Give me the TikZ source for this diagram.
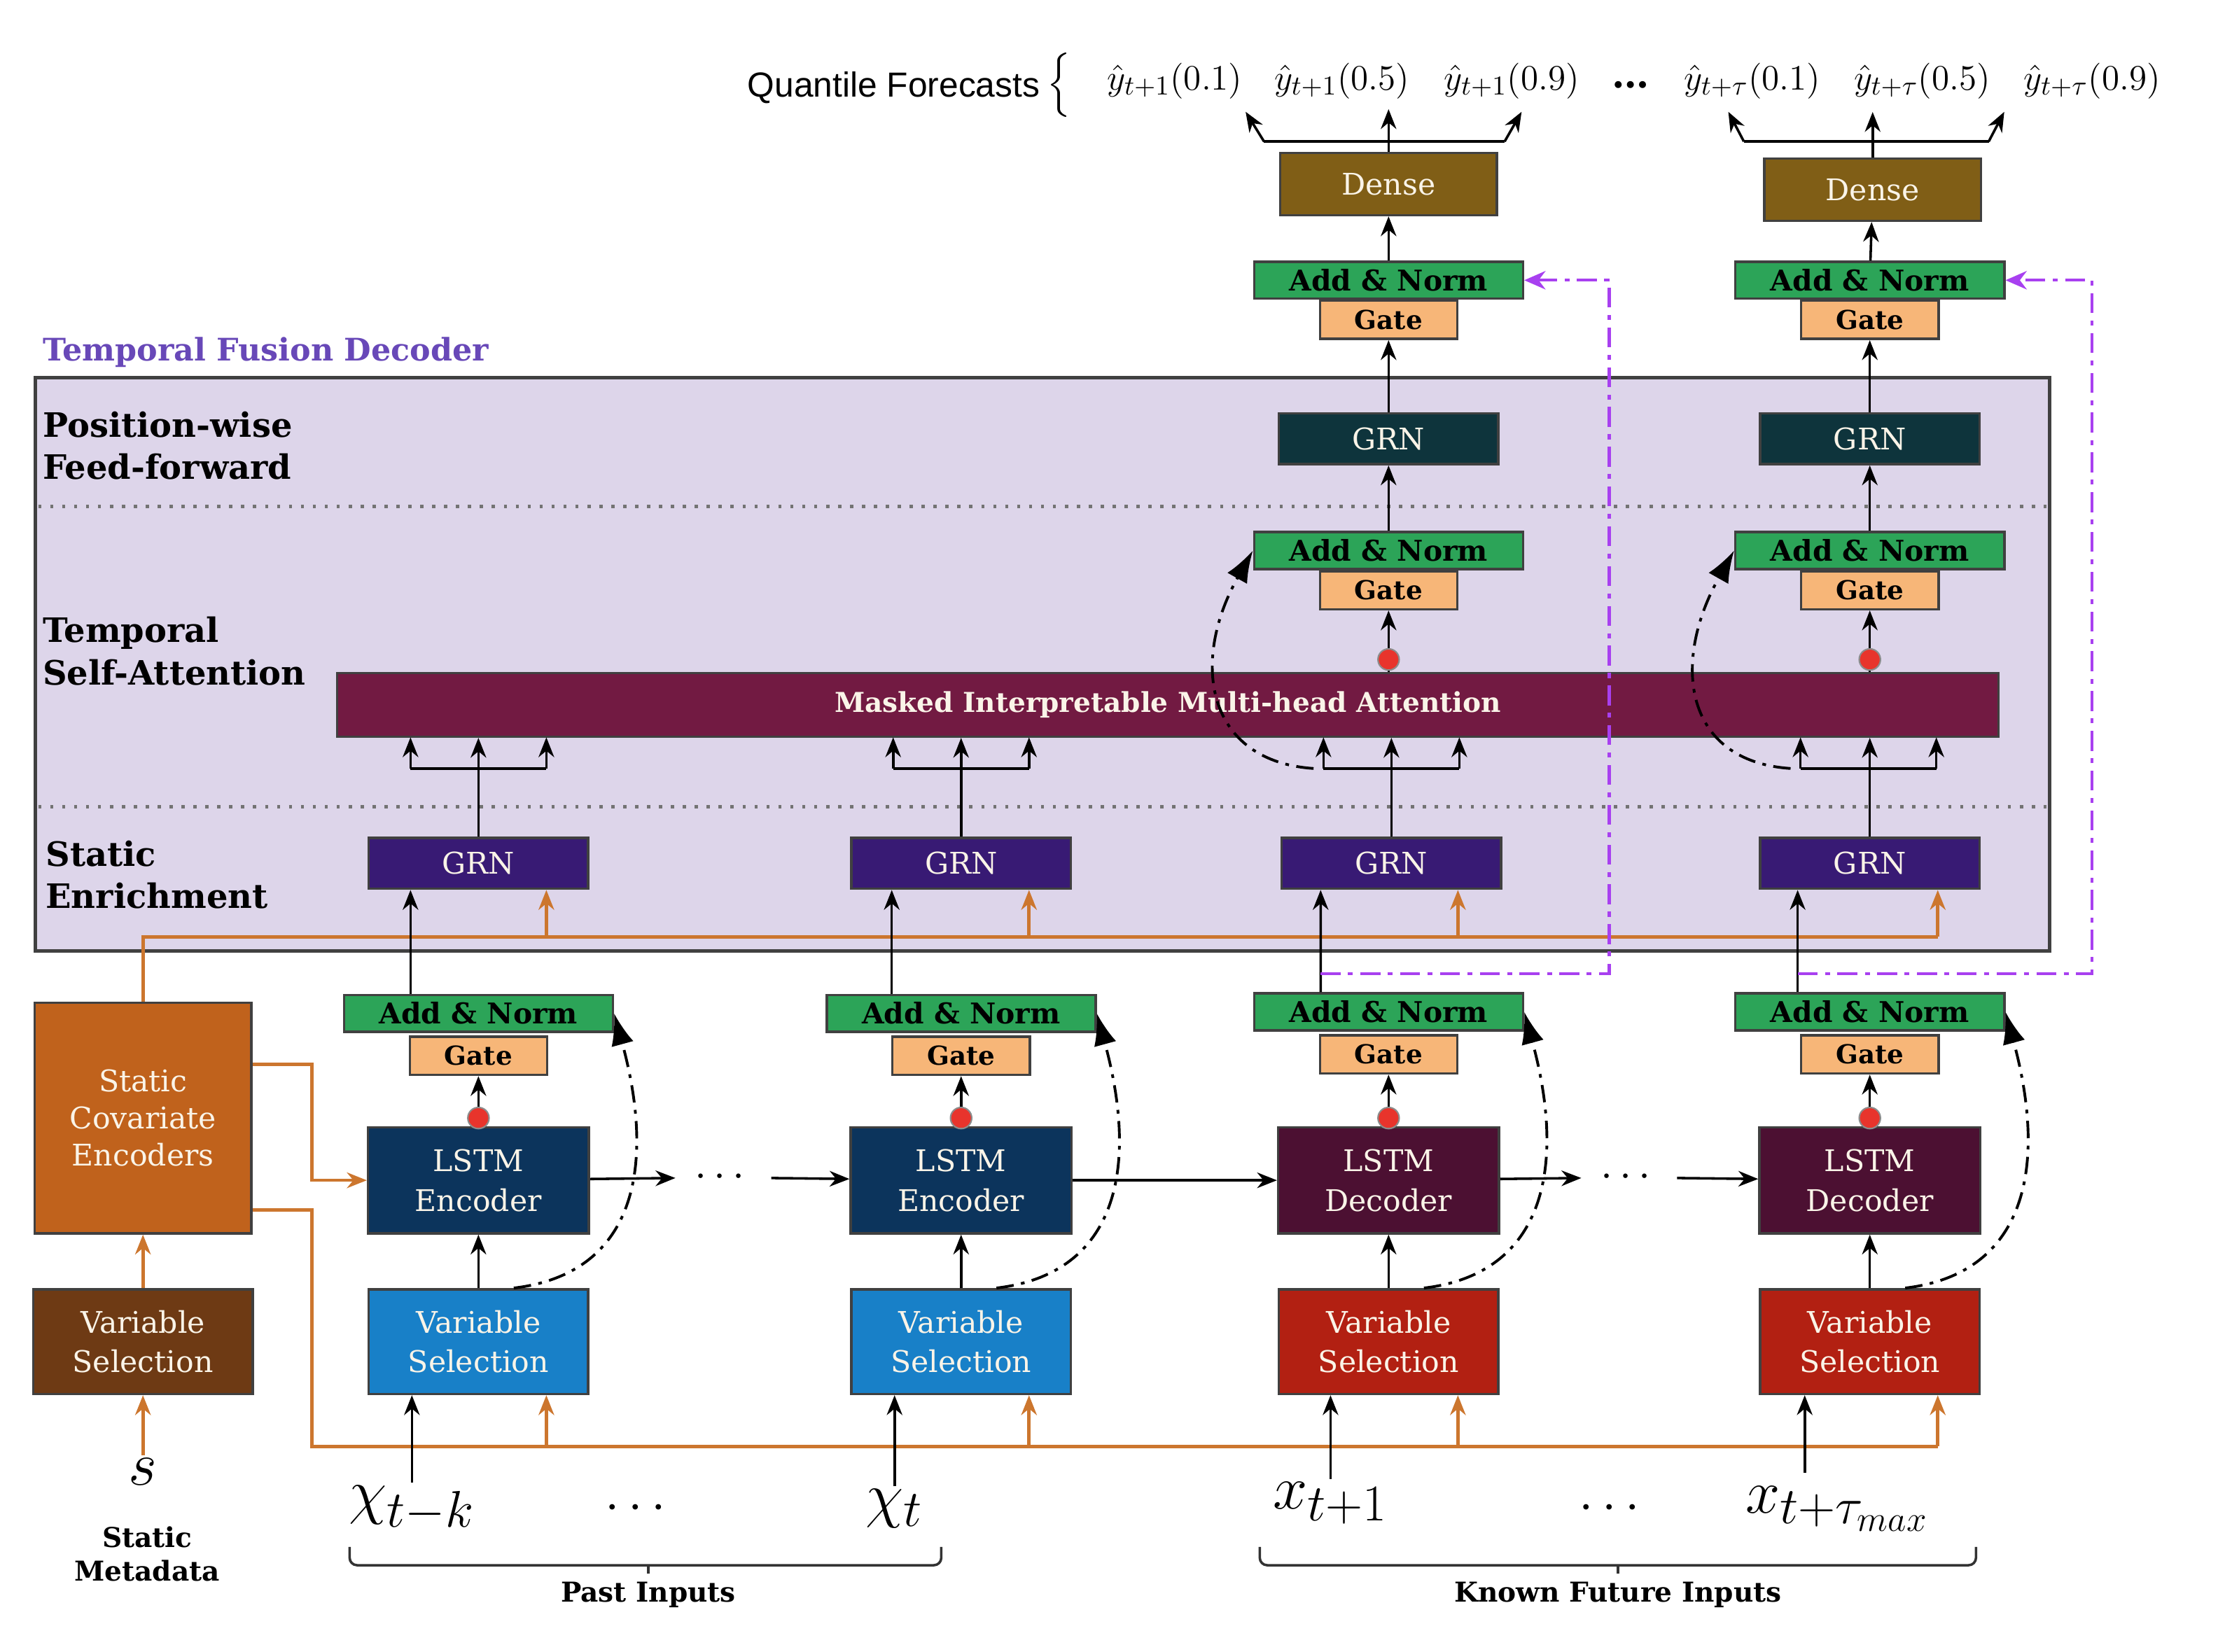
\documentclass[tikz,border=0pt]{standalone}
\usepackage[no-math]{fontspec}
\setmainfont{DejaVu Serif}
\newfontfamily\quantfont{Liberation Sans}
\usepackage{amsmath}
\usetikzlibrary{arrows.meta}

\definecolor{tfdfill}{RGB}{221,213,234}
\definecolor{tfdtitle}{RGB}{104,72,184}
\definecolor{addfill}{RGB}{44,164,88}
\definecolor{gatefill}{RGB}{247,182,120}
\definecolor{grnfill}{RGB}{56,26,116}
\definecolor{fffill}{RGB}{14,52,60}
\definecolor{densefill}{RGB}{128,94,22}
\definecolor{attnfill}{RGB}{114,26,66}
\definecolor{encfill}{RGB}{12,52,92}
\definecolor{decfill}{RGB}{76,16,50}
\definecolor{pastsel}{RGB}{24,128,200}
\definecolor{futsel}{RGB}{178,32,18}
\definecolor{scefill}{RGB}{192,98,28}
\definecolor{statsel}{RGB}{110,58,20}
\definecolor{statline}{RGB}{204,118,46}
\definecolor{skippurple}{RGB}{168,64,240}
\definecolor{dotred}{RGB}{232,52,44}
\definecolor{boxtext}{RGB}{250,244,232}

\tikzset{
  block/.style={draw=black!75, line width=1pt, inner sep=0pt, align=center, text=boxtext, font=\fontsize{12}{16}\selectfont},
  addbox/.style={block, fill=addfill, text=black, minimum width=3.8cm, minimum height=0.52cm, font=\bfseries\fontsize{11.5}{13}\selectfont},
  gatebox/.style={block, fill=gatefill, text=black, minimum width=1.94cm, minimum height=0.54cm, font=\bfseries\fontsize{10.5}{12}\selectfont},
  grnbox/.style={block, fill=grnfill, minimum width=3.1cm, minimum height=0.72cm},
  ffbox/.style={block, fill=fffill, minimum width=3.1cm, minimum height=0.72cm},
  lstmbox/.style={block, minimum width=3.12cm, minimum height=1.5cm},
  selbox/.style={block, minimum width=3.1cm, minimum height=1.48cm},
  densebox/.style={block, fill=densefill, minimum width=3.06cm, minimum height=0.88cm},
  gatedot/.style={circle, fill=dotred, draw=black!45, line width=0.6pt, minimum size=0.3cm, inner sep=0pt},
  plain/.style={draw=black, line width=1pt},
  flow/.style={plain, -{Stealth[length=2.8mm,width=2.2mm,inset=0.9mm]}},
  staticline/.style={draw=statline, line width=1.3pt},
  staticflow/.style={staticline, -{Stealth[length=2.8mm,width=2.2mm,inset=0.9mm]}},
  resid/.style={draw=black, line width=1.1pt, dash pattern=on 7pt off 3pt on 1.5pt off 3pt, -{Latex[length=4.5mm,width=3.2mm]}},
  outskip/.style={draw=skippurple, line width=1.2pt, dash pattern=on 8pt off 3pt on 2pt off 3pt, -{Stealth[length=3mm,width=2.6mm]}},
  seclabel/.style={anchor=west, align=left, inner sep=0pt, font=\bfseries\fontsize{13.5}{17}\selectfont},
  qtext/.style={inner sep=0pt, font=\fontsize{15.5}{18}\selectfont},
  intext/.style={inner sep=1pt, font=\fontsize{29}{32}\selectfont},
}

\begin{document}
\begin{tikzpicture}[x=0.02cm, y=-0.02cm]
			%%%%% START %%%%%
			\useasboundingbox (0,0) rectangle (1567,1167);
			
			% decoder frame
			\draw[draw=black!75, line width=1.5pt, fill=tfdfill] (25,267) rectangle (1448,672);
			\draw[black!55, line width=1.3pt, dash pattern=on 1.3pt off 3.5pt] (27,358) -- (1446,358);
			\draw[black!55, line width=1.3pt, dash pattern=on 1.3pt off 3.5pt] (27,570) -- (1446,570);
			\node[anchor=base west, inner sep=0pt, text=tfdtitle, font=\bfseries\fontsize{12.5}{15}\selectfont] (tfd) at (30,255) {Temporal Fusion Decoder};
			\node[seclabel] (secff) at (30,315) {Position-wise\\Feed-forward};
			\node[seclabel] (secsa) at (30,460) {Temporal\\Self-Attention};
			\node[seclabel] (secse) at (32,618) {Static\\Enrichment};
			
			% static covariates
			\node[selbox, fill=statsel] (vss) at (101,948) {Variable\\Selection};
			\node[block, fill=scefill, minimum width=3.06cm, minimum height=3.26cm, font=\fontsize{12}{15}\selectfont] (sce) at (101,790) {Static\\Covariate\\Encoders};
			\node[intext] (smeta) at (101,1040) {$s$};
			\node[align=center, font=\bfseries\fontsize{11}{13.6}\selectfont] (smetalab) at (104,1098) {Static\\Metadata};
			
			% past inputs
			\node[selbox, fill=pastsel] (vs1) at (338,948) {Variable\\Selection};
			\node[lstmbox, fill=encfill] (lstm1) at (338,834) {LSTM\\Encoder};
			\node[gatebox] (gl1) at (338,746) {Gate};
			\node[addbox] (al1) at (338,716) {Add \& Norm};
			\node[grnbox] (grn1) at (338,610) {GRN};
			
			\node[selbox, fill=pastsel] (vs2) at (679,948) {Variable\\Selection};
			\node[lstmbox, fill=encfill] (lstm2) at (679,834) {LSTM\\Encoder};
			\node[gatebox] (gl2) at (679,746) {Gate};
			\node[addbox] (al2) at (679,716) {Add \& Norm};
			\node[grnbox] (grn2) at (679,610) {GRN};
			
			% known future inputs
			\node[selbox, fill=futsel] (vs3) at (981,948) {Variable\\Selection};
			\node[lstmbox, fill=decfill] (lstm3) at (981,834) {LSTM\\Decoder};
			\node[gatebox] (gl3) at (981,745) {Gate};
			\node[addbox] (al3) at (981,715) {Add \& Norm};
			\node[grnbox] (grn3) at (983,610) {GRN};
			
			\node[selbox, fill=futsel] (vs4) at (1321,948) {Variable\\Selection};
			\node[lstmbox, fill=decfill] (lstm4) at (1321,834) {LSTM\\Decoder};
			\node[gatebox] (gl4) at (1321,745) {Gate};
			\node[addbox] (al4) at (1321,715) {Add \& Norm};
			\node[grnbox] (grn4) at (1321,610) {GRN};
			
			% attention and outputs
			\node[block, fill=attnfill, minimum width=23.48cm, minimum height=0.9cm, font=\bfseries\fontsize{11}{13}\selectfont] (attn) at (825,498) {Masked Interpretable Multi-head Attention};
			
			\node[gatebox] (gu3) at (981,417) {Gate};
			\node[addbox] (au3) at (981,389) {Add \& Norm};
			\node[ffbox] (ff3) at (981,310) {GRN};
			\node[gatebox] (go3) at (981,226) {Gate};
			\node[addbox] (ao3) at (981,198) {Add \& Norm};
			\node[densebox] (dense3) at (981,130) {Dense};
			
			\node[gatebox] (gu4) at (1321,417) {Gate};
			\node[addbox] (au4) at (1321,389) {Add \& Norm};
			\node[ffbox] (ff4) at (1321,310) {GRN};
			\node[gatebox] (go4) at (1321,226) {Gate};
			\node[addbox] (ao4) at (1321,198) {Add \& Norm};
			\node[densebox] (dense4) at (1323,134) {Dense};
			
			% quantile forecasts
			\node[anchor=east, inner sep=0pt, font=\quantfont\fontsize{14}{16}\selectfont] (qlab) at (735,62) {Quantile Forecasts};
			\node[qtext] (qbrace) at (748,60) {$\Big\{$};
			\node[qtext] (q31) at (830,57) {$\hat{y}_{t+1}(0.1)$};
			\node[qtext] (q35) at (948,57) {$\hat{y}_{t+1}(0.5)$};
			\node[qtext] (q39) at (1068,57) {$\hat{y}_{t+1}(0.9)$};
			\node[qtext, font=\bfseries\fontsize{15}{18}\selectfont] (qdots) at (1152,60) {\ldots};
			\node[qtext] (q41) at (1238,57) {$\hat{y}_{t+\tau}(0.1)$};
			\node[qtext] (q45) at (1358,57) {$\hat{y}_{t+\tau}(0.5)$};
			\node[qtext] (q49) at (1478,57) {$\hat{y}_{t+\tau}(0.9)$};
			
			% inputs
			\node[intext] (xk) at (291,1066) {$\chi_{t-k}$};
			\node[intext, font=\fontsize{20}{24}\selectfont] (xdots1) at (452,1066) {$\cdots$};
			\node[intext] (xt) at (632,1066) {$\chi_t$};
			\node[intext] (xf1) at (940,1062) {$x_{t+1}$};
			\node[intext, font=\fontsize{20}{24}\selectfont] (xdots2) at (1140,1066) {$\cdots$};
			\node[intext] (xfm) at (1298,1066) {$x_{t+\tau_{max}}$};
			
			\node[font=\bfseries\fontsize{11}{13}\selectfont] (pastlab) at (458,1127) {Past Inputs};
			\node[font=\bfseries\fontsize{11}{13}\selectfont] (futlab) at (1143,1127) {Known Future Inputs};
			\draw[plain, black!80, rounded corners=3pt] (247,1093) -- (247,1106) -- (665,1106) -- (665,1093);
			\draw[plain, black!80] (458,1106) -- (pastlab.north);
			\draw[plain, black!80, rounded corners=3pt] (890,1093) -- (890,1106) -- (1396,1106) -- (1396,1093);
			\draw[plain, black!80] (1143,1106) -- (futlab.north);
			
			% static context paths
			\draw[staticflow] (smeta) -- (vss);
			\draw[staticflow] (vss) -- (sce);
			\coordinate (enrich) at (1369,662);
			\draw[staticline] (sce.north) |- (enrich);
			\draw[staticflow] (enrich) -- (enrich |- grn4.south);
			\draw[staticflow] ([xshift=0.96cm,yshift=-0.68cm]grn1.south) -- ([xshift=0.96cm]grn1.south);
			\draw[staticflow] ([xshift=0.96cm,yshift=-0.68cm]grn2.south) -- ([xshift=0.96cm]grn2.south);
			\draw[staticflow] ([xshift=0.94cm,yshift=-0.68cm]grn3.south) -- ([xshift=0.94cm]grn3.south);
			\draw[staticflow] ([yshift=0.76cm]sce.east) -- ++(0.84cm,0) |- (lstm1.west);
			\coordinate (selrail) at (1369,1022);
			\draw[staticline] ([yshift=-1.3cm]sce.east) -- ++(0.84cm,0) |- (selrail);
			\draw[staticflow] (selrail) -- (selrail |- vs4.south);
			\draw[staticflow] ([xshift=0.96cm,yshift=-0.74cm]vs1.south) -- ([xshift=0.96cm]vs1.south);
			\draw[staticflow] ([xshift=0.96cm,yshift=-0.74cm]vs2.south) -- ([xshift=0.96cm]vs2.south);
			\draw[staticflow] ([xshift=0.98cm,yshift=-0.74cm]vs3.south) -- ([xshift=0.98cm]vs3.south);
			
			% inputs to selection
			\draw[flow] (xk) -- (xk |- vs1.south);
			\draw[flow] (xt) -- (xt |- vs2.south);
			\draw[flow] (xf1) -- (xf1 |- vs3.south);
			\draw[flow] ([xshift=-0.92cm,yshift=-1.1cm]vs4.south) -- ([xshift=-0.92cm]vs4.south);
			
			% lstm chain
			\node[minimum width=1.34cm, inner sep=0pt, font=\fontsize{16}{18}\selectfont] (cd1) at (511,832) {$\cdots$};
			\node[minimum width=1.34cm, inner sep=0pt, font=\fontsize{16}{18}\selectfont] (cd2) at (1151,832) {$\cdots$};
			\draw[flow] (lstm1) -- (cd1);
			\draw[flow] (cd1) -- (lstm2);
			\draw[flow] (lstm2) -- (lstm3);
			\draw[flow] (lstm3) -- (cd2);
			\draw[flow] (cd2) -- (lstm4);
			
			% lower columns
			\draw[flow] (vs1) -- (lstm1);
			\draw[flow] (lstm1) -- (gl1);
			\draw[flow] ([xshift=-0.96cm]al1.north) -- ([xshift=-0.96cm]grn1.south);
			\draw[resid] ([xshift=0.5cm]vs1.north) .. controls +(1.7cm,0.2cm) and +(0.6cm,-2.2cm) .. (al1.east);
			
			\draw[flow] (vs2) -- (lstm2);
			\draw[flow] (lstm2) -- (gl2);
			\draw[flow] ([xshift=-0.98cm]al2.north) -- ([xshift=-0.98cm]grn2.south);
			\draw[resid] ([xshift=0.5cm]vs2.north) .. controls +(1.7cm,0.2cm) and +(0.6cm,-2.2cm) .. (al2.east);
			
			\draw[flow] (vs3) -- (lstm3);
			\draw[flow] (lstm3) -- (gl3);
			\draw[flow] ([xshift=-0.96cm]al3.north) -- ([xshift=-1cm]grn3.south);
			\draw[resid] ([xshift=0.5cm]vs3.north) .. controls +(1.7cm,0.2cm) and +(0.6cm,-2.2cm) .. (al3.east);
			
			\draw[flow] (vs4) -- (lstm4);
			\draw[flow] (lstm4) -- (gl4);
			\draw[flow] ([xshift=-1.02cm]al4.north) -- ([xshift=-1.02cm]grn4.south);
			\draw[resid] ([xshift=0.5cm]vs4.north) .. controls +(1.7cm,0.2cm) and +(0.6cm,-2.2cm) .. (al4.east);
			
			% enrichment to attention
			\coordinate (fa1) at (338,543);
			\coordinate (fa2) at (679,543);
			\coordinate (fa3) at (983,543);
			\coordinate (fa4) at (1320,543);
			\draw[flow] (grn1) -- (grn1 |- attn.south);
			\draw[plain] ([xshift=-0.96cm]fa1) -- ([xshift=0.96cm]fa1);
			\draw[flow] ([xshift=-0.96cm]fa1) -- ++(0,0.44cm);
			\draw[flow] ([xshift=0.96cm]fa1) -- ++(0,0.44cm);
			\draw[flow] (grn2) -- (grn2 |- attn.south);
			\draw[plain] ([xshift=-0.96cm]fa2) -- ([xshift=0.96cm]fa2);
			\draw[flow] ([xshift=-0.96cm]fa2) -- ++(0,0.44cm);
			\draw[flow] ([xshift=0.96cm]fa2) -- ++(0,0.44cm);
			\draw[flow] (grn3) -- (grn3 |- attn.south);
			\draw[plain] ([xshift=-0.96cm]fa3) -- ([xshift=0.96cm]fa3);
			\draw[flow] ([xshift=-0.96cm]fa3) -- ++(0,0.44cm);
			\draw[flow] ([xshift=0.96cm]fa3) -- ++(0,0.44cm);
			\draw[flow] (grn4) -- (grn4 |- attn.south);
			\draw[plain] ([xshift=-0.96cm]fa4) -- ([xshift=0.96cm]fa4);
			\draw[flow] ([xshift=-0.96cm]fa4) -- ++(0,0.44cm);
			\draw[flow] ([xshift=0.96cm]fa4) -- ++(0,0.44cm);
			
			% upper columns
			\draw[flow] (attn.north -| gu3) -- (gu3);
			\draw[flow] (au3) -- (ff3);
			\draw[flow] (ff3) -- (go3);
			\draw[flow] (ao3) -- (dense3);
			\draw[resid] ([xshift=-1.1cm]fa3) .. controls +(-1.5cm,0.1cm) and +(-0.9cm,-1.6cm) .. (au3.west);
			\draw[flow] (attn.north -| gu4) -- (gu4);
			\draw[flow] (au4) -- (ff4);
			\draw[flow] (ff4) -- (go4);
			\draw[flow] (ao4) -- (dense4);
			\draw[resid] ([xshift=-1.1cm]fa4) .. controls +(-1.5cm,0.1cm) and +(-0.9cm,-1.6cm) .. (au4.west);
			
			% gated skips to the output
			\coordinate (pk3) at (933,688);
			\coordinate (pk4) at (1270,688);
			\draw[outskip] (pk3) -- ++(4.08cm,0) |- (ao3.east);
			\draw[outskip] (pk4) -- ++(4.16cm,0) |- (ao4.east);
			
			% quantile heads
			\coordinate (fk3) at (981,100);
			\coordinate (fk4) at (1318,100);
			\draw[plain] ([xshift=-1.76cm]fk3) -- ([xshift=1.64cm]fk3);
			\draw[flow] ([xshift=-1.76cm]fk3) -- ++(-0.26cm,0.42cm);
			\draw[flow] ([xshift=1.64cm]fk3) -- ++(0.24cm,0.42cm);
			\draw[flow] (dense3.north) -- ++(0,0.6cm);
			\draw[plain] ([xshift=-1.72cm]fk4) -- ([xshift=1.74cm]fk4);
			\draw[flow] ([xshift=-1.72cm]fk4) -- ++(-0.22cm,0.42cm);
			\draw[flow] ([xshift=1.74cm]fk4) -- ++(0.22cm,0.42cm);
			\draw[flow] (dense4.north) -- ++(0,0.64cm);
			
			% gate points
			\node[gatedot] (dot1) at (338,790) {};
			\node[gatedot] (dot2) at (679,790) {};
			\node[gatedot] (dot3) at (981,790) {};
			\node[gatedot] (dot4) at (1321,790) {};
			\node[gatedot] (dot5) at (981,466) {};
			\node[gatedot] (dot6) at (1321,466) {};
			
			%%%%% END %%%%%
\end{tikzpicture}
\end{document}
